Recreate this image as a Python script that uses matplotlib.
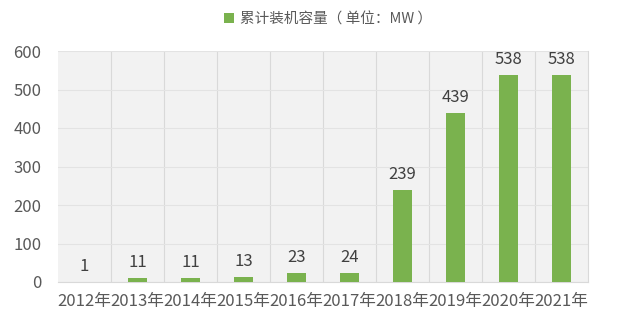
import matplotlib.pyplot as plt
import numpy as np

plt.rcParams['font.family'] = ['Noto Sans CJK SC', 'DejaVu Sans']

years = ['2012年', '2013年', '2014年', '2015年', '2016年', '2017年',
         '2018年', '2019年', '2020年', '2021年']
capacity = [1, 11, 11, 13, 23, 24, 239, 439, 538, 538]
label = '累计装机容量（ 单位：MW ）'

fig = plt.figure(figsize=(6.24, 3.35), dpi=100)
ax = fig.add_axes([58/624, 1 - 282/335, 530/624, 231/335])
ax.set_facecolor('#f2f2f2')

x = np.arange(len(years))
ax.bar(x, capacity, width=0.34, color='#7ab24e', label=label, zorder=3)
for xi, v in zip(x, capacity):
    ax.text(xi, v + 18, str(v), ha='center', va='bottom', fontsize=12, color='#404040')

ax.set_xlim(-0.5, len(years) - 0.5)
ax.set_ylim(0, 600)
ax.set_yticks(range(0, 601, 100))
ax.set_xticks(x)
ax.set_xticklabels(years)
for b in np.arange(0.5, len(years) - 1, 1):
    ax.axvline(b, color='#d9d9d9', lw=0.8, zorder=1)
ax.grid(axis='y', color='#e3e3e3', lw=0.8, zorder=1)
ax.tick_params(length=0, labelsize=12, colors='#595959')
ax.tick_params(axis='y', pad=12)
ax.tick_params(axis='x', pad=8)
for s in ['top', 'left']:
    ax.spines[s].set_visible(False)
for s in ['right', 'bottom']:
    ax.spines[s].set_color('#d9d9d9')

ax.legend(loc='lower center', bbox_to_anchor=(0.51, 1.05), frameon=False,
          fontsize=10.5, labelcolor='#595959', handlelength=0.7, handleheight=0.7,
          handletextpad=0.4)

fig.savefig('out.png', dpi=100, facecolor='white')
